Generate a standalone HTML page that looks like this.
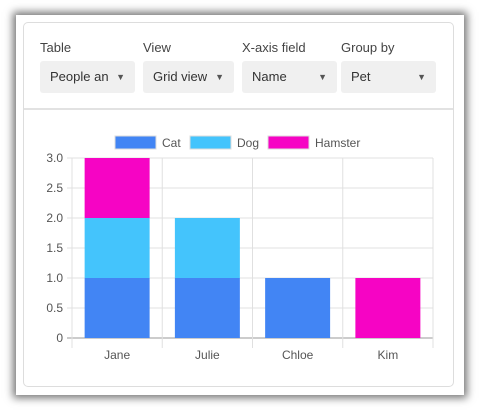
<!DOCTYPE html>
<html><head><meta charset="utf-8"><style>
body{margin:0;width:479px;height:410px;background:#fff;font-family:"Liberation Sans",sans-serif;position:relative;overflow:hidden}
.win{position:absolute;left:16px;top:15px;width:448px;height:380px;background:#fff;box-shadow:0 0 8px 3px rgba(0,0,0,.55)}
.card{position:absolute;left:23px;top:22px;width:429px;height:363px;border:1.5px solid #ddd;border-radius:5px;background:#fff}
.div{position:absolute;left:24px;top:108px;width:429px;height:2px;background:#e2e2e2}
.lbl{position:absolute;top:40px;font-size:13px;color:#444}
.dd{position:absolute;top:61px;height:32px;background:#f0f0f0;border-radius:3px;font-size:13px;color:#333;line-height:32px;padding-left:10px;box-sizing:border-box;white-space:nowrap;overflow:hidden}
.dd span.t{display:inline-block;overflow:hidden;vertical-align:top}
.dd .ar{position:absolute;right:10px;top:0;font-size:9px;color:#555}
</style></head><body>
<div class="win"></div>
<div class="card"></div>
<div class="div"></div>
<div class="lbl" style="left:40px">Table</div>
<div class="lbl" style="left:143px">View</div>
<div class="lbl" style="left:242px">X-axis field</div>
<div class="lbl" style="left:341px">Group by</div>
<div class="dd" style="left:40px;width:95px"><span class="t" style="width:58px">People and pets</span><span class="ar">▼</span></div>
<div class="dd" style="left:143px;width:91px"><span class="t">Grid view</span><span class="ar">▼</span></div>
<div class="dd" style="left:242px;width:95px"><span class="t">Name</span><span class="ar">▼</span></div>
<div class="dd" style="left:341px;width:95px"><span class="t">Pet</span><span class="ar">▼</span></div>
<svg id="chart" width="479" height="410" style="position:absolute;left:0;top:0"></svg>
<script>
const categories=["Jane","Julie","Chloe","Kim"];
const seriesNames=["Cat","Dog","Hamster"];
const seriesColors=["#4285f4","#44c4fc","#f604c4"];
const cat=[1,1,1,0];
const dog=[1,1,0,0];
const hamster=[1,0,0,1];
const yTicks=[0,0.5,1.0,1.5,2.0,2.5,3.0];
const series=[cat,dog,hamster];
const svg=document.getElementById('chart');const NS="http://www.w3.org/2000/svg";
function mk(t,a){const e=document.createElementNS(NS,t);for(const k in a)e.setAttribute(k,a[k]);svg.appendChild(e);return e;}
const L=72,R=433,T=158,B=338,yMax=3;
const y=v=>B-(v/yMax)*(B-T);
const bw=(R-L)/categories.length;
const x=i=>L+i*bw;
yTicks.forEach(v=>{
 const g=mk('line',{x1:L-5,x2:R,y1:y(v),y2:y(v),stroke:v===0?'#999':'#e0e0e0'});
 
 
 const t=mk('text',{x:L-9,y:y(v)+4,'text-anchor':'end','font-size':'12',fill:'#555'});
 t.textContent=v===0?'0':v.toFixed(1);
 
 
});
for(let i=0;i<=categories.length;i++){
 const g=mk('line',{x1:x(i),x2:x(i),y1:T,y2:B+10,stroke:'#e0e0e0'});
 
 
}
categories.forEach((c,i)=>{
 let base=0;
 series.forEach((s,j)=>{
  if(s[i]>0){
   const r=mk('rect',{x:x(i)+bw*0.14,width:bw*0.72,y:y(base+s[i]),height:y(base)-y(base+s[i]),fill:seriesColors[j]});
   
   
   base+=s[i];
  }
 });
 const t=mk('text',{x:x(i)+bw/2,y:B+21,'text-anchor':'middle','font-size':'12',fill:'#555'});
 t.textContent=c;
 
 
});
const lx=[115,190,268];
seriesNames.forEach((n,j)=>{
 const r=mk('rect',{x:lx[j],y:136,width:41,height:13,fill:seriesColors[j],stroke:'#ddd'});
 
 
 const t=mk('text',{x:lx[j]+47,y:147,'font-size':'12',fill:'#555'});
 t.textContent=n;
 
 
});
</script>
</body></html>
